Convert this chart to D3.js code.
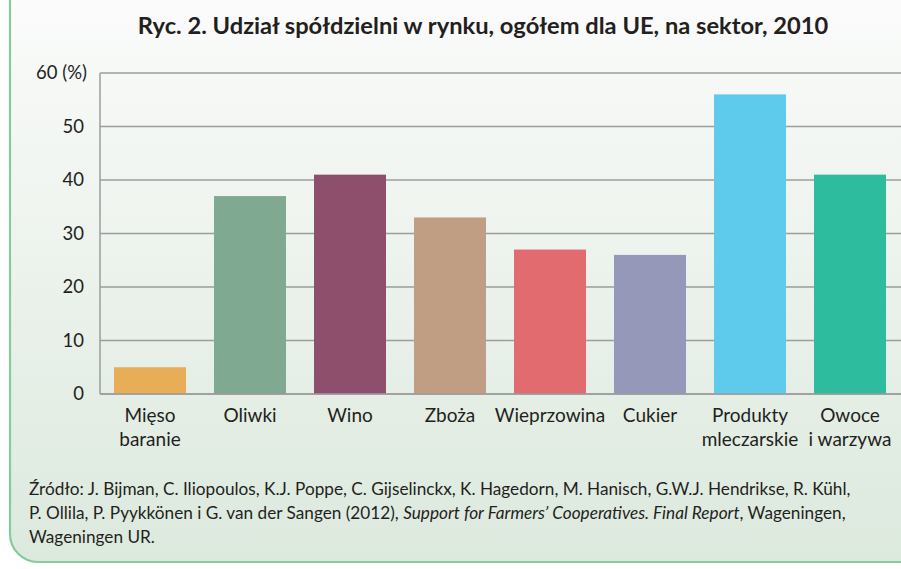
<!DOCTYPE html>
<html>
<head>
<meta charset="utf-8">
<script src="https://cdn.jsdelivr.net/npm/d3@7"></script>
<style>
  body { margin: 0; background: #fff; }
  svg { display: block; font-family: Lato, "Open Sans", sans-serif; }
</style>
</head>
<body>
<svg width="901" height="569"></svg>
<script>
(function (d3) {
    'use strict';

    const categories = ['Mięso\nbaranie', 'Oliwki', 'Wino', 'Zboża', 'Wieprzowina',
                        'Cukier', 'Produkty\nmleczarskie', 'Owoce\ni warzywa'];
    const values = [5, 37, 41, 33, 27, 26, 56, 41];
    const colors = ['#e8ad57', '#80a991', '#8e4f6c', '#c09e84',
                    '#e26b6f', '#9598b9', '#5ecbec', '#2dbd9e'];
    const yTicks = [0, 10, 20, 30, 40, 50, 60];
    const title = 'Ryc. 2. Udział spółdzielni w rynku, ogółem dla UE, na sektor, 2010';

    const svg = d3.select('svg');

    // background panel
    const defs = svg.append('defs');
    const grad = defs.append('linearGradient')
        .attr('id', 'bg').attr('x1', 0).attr('y1', 0).attr('x2', 0).attr('y2', 1);
    grad.append('stop').attr('offset', '0%').attr('stop-color', '#fcfcfc');
    grad.append('stop').attr('offset', '100%').attr('stop-color', '#dce9dd');

    svg.append('rect')
        .attr('x', 10).attr('y', -30)
        .attr('width', 950).attr('height', 592)
        .attr('rx', 28)
        .attr('fill', 'url(#bg)')
        .attr('stroke', '#86cb9e')
        .attr('stroke-width', 2.2);

    svg.append('text')
        .attr('x', 483).attr('y', 34)
        .attr('text-anchor', 'middle')
        .attr('font-size', 23.7)
        .attr('font-weight', 'bold')
        .attr('fill', '#231f20')
        .text(title);

    const x = d3.scaleBand()
        .domain(categories)
        .range([100, 900])
        .paddingInner(0.28)
        .paddingOuter(0.14);

    const y = d3.scaleLinear()
        .domain([0, 60])
        .range([394, 73]);

    // grid lines
    svg.append('g')
        .selectAll('line')
        .data(yTicks)
        .join('line')
            .attr('x1', 100).attr('x2', 901)
            .attr('y1', d => y(d)).attr('y2', d => y(d))
            .attr('stroke', '#9d9d9d')
            .attr('stroke-width', 1.5);

    svg.append('line')
        .attr('x1', 100).attr('x2', 100)
        .attr('y1', y(60)).attr('y2', y(0))
        .attr('stroke', '#9d9d9d')
        .attr('stroke-width', 1.5);

    // y tick labels
    svg.append('g')
        .selectAll('text')
        .data(yTicks)
        .join('text')
            .attr('x', d => d === 60 ? 87 : 84)
            .attr('y', d => y(d))
            .attr('dy', '0.35em')
            .attr('text-anchor', 'end')
            .attr('font-size', 18.5)
            .attr('fill', '#231f20')
            .text(d => d === 60 ? '60 (%)' : d);

    // bars
    svg.append('g')
        .selectAll('rect')
        .data(values)
        .join('rect')
            .attr('x', (d, i) => x(categories[i]))
            .attr('width', x.bandwidth())
            .attr('y', d => y(d))
            .attr('height', d => y(0) - y(d))
            .attr('fill', (d, i) => colors[i]);

    // redraw baseline on top
    svg.append('line')
        .attr('x1', 100).attr('x2', 901)
        .attr('y1', y(0)).attr('y2', y(0))
        .attr('stroke', '#9d9d9d')
        .attr('stroke-width', 1.5);

    // category labels
    const labels = svg.append('g')
        .selectAll('text')
        .data(categories)
        .join('text')
            .attr('x', d => x(d) + x.bandwidth() / 2)
            .attr('y', 422)
            .attr('text-anchor', 'middle')
            .attr('font-size', 19)
            .attr('fill', '#231f20');
    labels.selectAll('tspan')
        .data(d => d.split('\n').map(t => ({ t, c: d })))
        .join('tspan')
            .attr('x', d => x(d.c) + x.bandwidth() / 2)
            .attr('dy', (d, i) => i === 0 ? 0 : 24)
            .text(d => d.t);

    // source note
    const src = svg.append('g')
        .attr('font-size', 17.2)
        .attr('fill', '#231f20');
    src.append('text').attr('x', 29).attr('y', 495)
        .text('Źródło: J. Bijman, C. Iliopoulos, K.J. Poppe, C. Gijselinckx, K. Hagedorn, M. Hanisch, G.W.J. Hendrikse, R. Kühl,');
    const l2 = src.append('text').attr('x', 29).attr('y', 519);
    l2.append('tspan').text('P. Ollila, P. Pyykkönen i G. van der Sangen (2012), ');
    l2.append('tspan').attr('font-style', 'italic').text('Support for Farmers’ Cooperatives. Final Report');
    l2.append('tspan').text(', Wageningen,');
    src.append('text').attr('x', 29).attr('y', 543).text('Wageningen UR.');
}(d3));
</script>
</body>
</html>
